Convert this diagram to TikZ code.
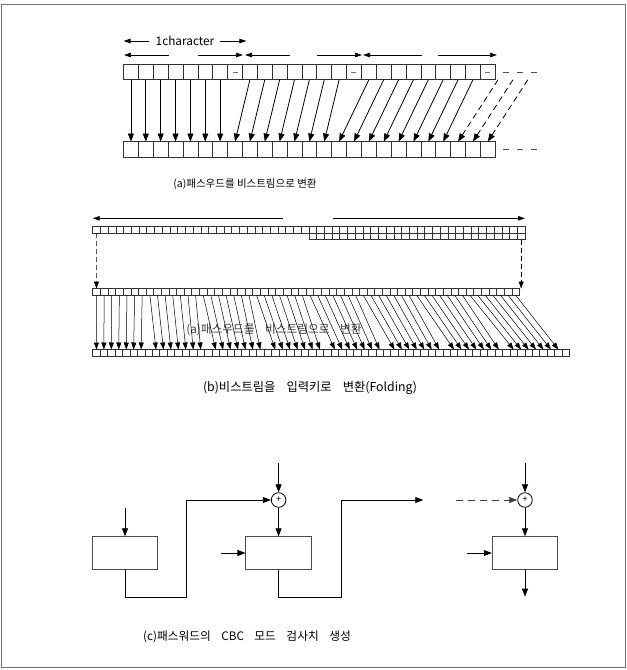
\documentclass[tikz,border=0pt]{standalone}
\usepackage{fontspec}
\setmainfont{Noto Sans CJK KR}
\newfontfamily\capfont[WordSpace=3]{Noto Sans CJK KR}
\newfontfamily\capfontwide[WordSpace=4]{Noto Sans CJK KR}
\usepackage{xcolor}
\definecolor{lineGray}{gray}{0.2}
\definecolor{frameGray}{gray}{0.45}
\usetikzlibrary{arrows.meta}

\tikzset{
  bitbox/.style={draw=lineGray, line width=0.7pt, inner sep=0pt, outer sep=0pt,
    minimum width=14.87pt, minimum height=15.5pt},
  tinybox/.style={draw=lineGray, line width=0.55pt, inner sep=0pt, outer sep=0pt,
    minimum height=6.6pt},
  blockbox/.style={draw=black!70, line width=0.8pt, inner sep=0pt,
    minimum width=65.5pt, minimum height=32.6pt},
  xorop/.style={circle, draw, line width=0.8pt, inner sep=0pt, minimum size=14.6pt,
    font=\fontsize{9}{9}\selectfont},
  flow/.style={-{Triangle[length=8pt,width=6pt]}, line width=0.8pt},
  thinflow/.style={-{Triangle[length=7pt,width=5pt]}, line width=0.5pt},
  span/.style={-{Triangle[length=7pt,width=4.5pt]}, line width=0.7pt},
  caption/.style={font=\fontsize{10.5}{12}\selectfont},
  bigcaption/.style={font=\capfont\fontsize{11.7}{13}\selectfont},
}

\begin{document}
\begin{tikzpicture}[x=1pt, y=-1pt]
  \useasboundingbox (0,0) rectangle (627,670);
  \draw[frameGray, line width=1pt] (1,4) rectangle (625.5,667.5);

  % ---- (a) password to bit stream ----
  \foreach \i in {0,...,24} {
    \node[bitbox] (at\i) at ({123.5+(\i+0.5)*14.87},72) {};
    \node[bitbox] (ab\i) at ({123.5+(\i+0.5)*14.87},149.3) {};
  }
  \foreach \i in {7,15,24}
    \draw[black!55, line width=0.8pt] ([xshift=-2.5pt]at\i.center) -- ([xshift=2.5pt]at\i.center);
  \foreach \d in {0,...,21} {
    \pgfmathtruncatemacro\s{\d+min(int(\d/7),2)}
    \draw[flow] (at\s.south) -- (ab\d.north);
  }
  \foreach \d in {22,23,24} {
    \coordinate (dsrc\d) at ([xshift=40pt]at\d.south);
    \draw[flow, dash pattern=on 6pt off 4pt] (dsrc\d) -- (ab\d.north);
  }
  \draw[black!70, line width=0.7pt, dash pattern=on 6pt off 8pt] ([xshift=8pt]at24.east) -- ++(34,0);
  \draw[black!70, line width=0.7pt, dash pattern=on 6pt off 8pt] ([xshift=8pt]ab24.east) -- ++(34,0);

  \node[font=\fontsize{11.8}{13}\selectfont, inner sep=1pt] (onechar) at (185,41) {1character};
  \draw[span] ([xshift=-6pt]onechar.west) -- (at0.west |- onechar);
  \draw[span] ([xshift=5pt]onechar.east) -- ([xshift=4pt]at7.east |- onechar);
  \draw[span] (169,55) -- (124,55);
  \draw[span] (198,55) -- (243,55);
  \draw[span] (290,55) -- (245,55);
  \draw[span] (317,55) -- (362,55);
  \draw[span] (422,55) -- (363,55);
  \draw[span] (438,55) -- (497,55);

  \node[caption] (capa) at (245,184) {(a)패스우드를 비스트림으로 변환};

  % ---- (b) bit stream to input key (folding) ----
  \foreach \i in {0,...,55}
    \node[tinybox, minimum width=7.72pt] (bu\i) at ({92.7+(\i+0.5)*7.72},229.8) {};
  \foreach \i in {28,...,55}
    \node[tinybox, minimum width=7.72pt] (bf\i) at ({92.7+(\i+0.5)*7.72},236.4) {};
  \foreach \i in {0,...,55}
    \node[tinybox, minimum width=7.62pt] (bm\i) at ({92.7+(\i+0.5)*7.62},291.8) {};
  \foreach \i in {0,...,63}
    \node[tinybox, minimum width=7.45pt] (bl\i) at ({92.7+(\i+0.5)*7.45},352.8) {};

  \draw[span] (283,218.3) -- (bu0.west |- 0,218.3);
  \draw[span] (333,218.3) -- (bu55.east |- 0,218.3);
  \draw[thinflow, dash pattern=on 5pt off 3pt] (bu0.south) -- (bm0.north);
  \draw[thinflow, dash pattern=on 5pt off 3pt] (bf55.south) -- (bf55.south |- bm55.north);

  \node[bigcaption, text=black!75] (ghost) at (274,330) {(a)패스우드를 비스트림으로 변환};
  \foreach \i in {0,...,55} {
    \pgfmathtruncatemacro\d{\i+int(\i/7)}
    \draw[thinflow] (bm\i.south) -- (bl\d.north);
  }

  \node[font=\capfontwide\fontsize{12.3}{14}\selectfont] (capb) at (310,388) {(b)비스트림을 입력키로 변환(Folding)};

  % ---- (c) CBC check value ----
  \node[blockbox] (box1) at (125,553) {};
  \node[blockbox] (box2) at (278.6,553) {};
  \node[blockbox] (box3) at (525,553) {};
  \node[xorop] (xor1) at (278.6,500) {+};
  \node[xorop] (xor2) at (525,500) {+};

  \coordinate (in1) at (125,508.3);
  \coordinate (k1) at (278.6,463.3);
  \coordinate (k2) at (525,463.3);
  \coordinate (key2) at (221,553);
  \coordinate (key3) at (466.7,553);
  \coordinate (c1) at (186.7,597.3);
  \coordinate (c2) at (341.7,597.3);
  \coordinate (out2) at (423.3,500);
  \coordinate (dash2) at (456,500);
  \coordinate (out3) at (525,596.7);

  \draw[flow] (in1) -- (box1.north);
  \draw[flow] (box1.south) |- (c1) |- (xor1.west);
  \draw[flow] (k1) -- (xor1.north);
  \draw[flow] (xor1.south) -- (box2.north);
  \draw[flow] (key2) -- (box2.west);
  \draw[flow] (box2.south) |- (c2) |- (out2);
  \draw[flow, black!75, dash pattern=on 7pt off 5pt] (dash2) -- (xor2.west);
  \draw[flow] (k2) -- (xor2.north);
  \draw[flow] (xor2.south) -- (box3.north);
  \draw[flow] (key3) -- (box3.west);
  \draw[flow] (box3.south) -- (out3);

  \node[bigcaption] (capc) at (247,637) {(c)패스워드의 CBC 모드 검사치 생성};
\end{tikzpicture}
\end{document}
